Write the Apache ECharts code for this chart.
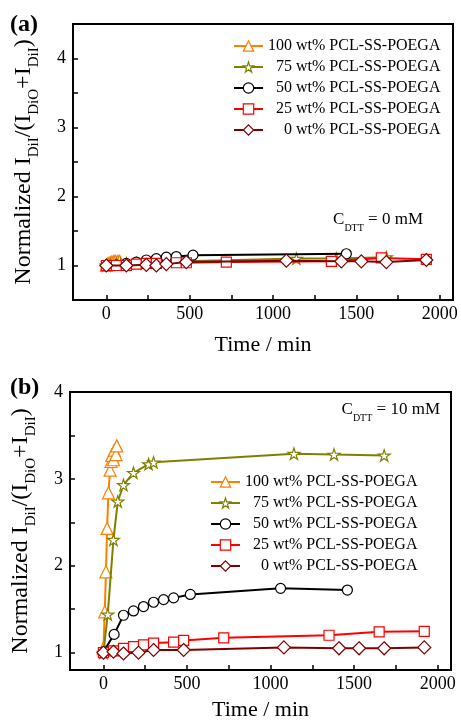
<!DOCTYPE html>
<html><head><meta charset="utf-8">
<script src="https://cdn.jsdelivr.net/npm/echarts@6/dist/echarts.min.js"></script>
<style>html,body{margin:0;padding:0;background:#fff}#c{width:461px;height:722px}</style>
</head><body><div id="c"></div><script>
const seriesNames = ['100 wt% PCL-SS-POEGA','75 wt% PCL-SS-POEGA','50 wt% PCL-SS-POEGA','25 wt% PCL-SS-POEGA','0 wt% PCL-SS-POEGA'];
const legendPad = {'100 wt% PCL-SS-POEGA':'','75 wt% PCL-SS-POEGA':'  ','50 wt% PCL-SS-POEGA':'  ','25 wt% PCL-SS-POEGA':'  ','0 wt% PCL-SS-POEGA':'    '};
const xLabelTicks = [0,500,1000,1500,2000];
const xAllTicks = [0,250,500,750,1000,1250,1500,1750,2000];
const yLabelTicks = [1,2,3,4];
const yAllTicksA = [1,1.5,2,2.5,3,3.5,4];
const yAllTicksB = [1,1.5,2,2.5,3,3.5,4];

// Panel (a): C_DTT = 0 mM  [time (min), normalized ratio]
const a100 = [[0,1.0],[8,1.02],[15,1.03],[22,1.04],[30,1.05],[40,1.05],[45,1.06],[50,1.05],[55,1.06],[65,1.05],[70,1.06],[80,1.06]];
const a75  = [[0,1.0],[26,1.01],[60,1.02],[86,1.02],[120,1.03],[180,1.03],[270,1.04],[300,1.05],[1140,1.10],[1380,1.10],[1680,1.12]];
const a50  = [[0,1.0],[60,1.01],[120,1.03],[180,1.05],[240,1.08],[300,1.10],[360,1.12],[420,1.13],[520,1.15],[1440,1.17]];
const a25  = [[0,1.0],[60,1.0],[120,1.0],[180,1.02],[240,1.03],[300,1.03],[420,1.04],[480,1.04],[720,1.05],[1350,1.06],[1650,1.11],[1920,1.09]];
const a0   = [[0,1.0],[120,1.0],[240,1.01],[300,1.0],[360,1.02],[480,1.05],[1080,1.07],[1410,1.06],[1530,1.06],[1680,1.05],[1920,1.08]];

// Panel (b): C_DTT = 10 mM
const b100 = [[0,1.05],[8,1.47],[15,1.93],[22,2.43],[30,2.84],[40,3.10],[45,3.20],[50,3.27],[60,3.22],[65,3.33],[75,3.28],[80,3.38]];
const b75  = [[0,1.0],[26,1.44],[60,2.30],[86,2.74],[120,2.93],[180,3.07],[270,3.17],[300,3.19],[1140,3.29],[1380,3.28],[1680,3.27]];
const b50  = [[0,1.01],[64,1.21],[120,1.43],[180,1.48],[240,1.53],[300,1.58],[360,1.61],[420,1.63],[520,1.67],[1060,1.74],[1460,1.72]];
const b25  = [[0,1.0],[60,1.02],[120,1.05],[180,1.07],[240,1.09],[300,1.11],[420,1.12],[480,1.14],[720,1.17],[1350,1.20],[1650,1.24],[1920,1.245]];
const b0   = [[0,1.0],[60,1.01],[120,0.99],[210,1.0],[300,1.03],[480,1.03],[1080,1.06],[1410,1.05],[1530,1.05],[1680,1.05],[1920,1.06]];

const colors = ['#FF7F00','#808000','#000000','#FF0000','#800000'];
const STAR = 'path://M50,0 L61,35 L98,35 L68,57 L79,91 L50,70 L21,91 L32,57 L2,35 L39,35 Z';
const symbols = ['triangle', STAR, 'circle', 'rect', 'diamond'];
const symSizes = [12, 12, 10, 10, 13];
const FF = '"Liberation Serif", "Times New Roman", serif';

function makeSeries(data, i, gi) {
  return {
    name: seriesNames[i], type: 'line', xAxisIndex: gi, yAxisIndex: gi, data: data,
    symbol: symbols[i], symbolSize: symSizes[i], symbolKeepAspect: true,
    itemStyle: {color: '#fff', borderColor: colors[i], borderWidth: 1.2},
    lineStyle: {color: colors[i], width: 2},
    animation: false, z: 2 + i
  };
}

function xAxis(gi, gap) {
  return {
    type: 'value', gridIndex: gi, min: -200, max: 2080,
    name: 'Time / min', nameLocation: 'middle', nameGap: gap,
    nameTextStyle: {fontFamily: FF, fontSize: 22, color: '#000'},
    axisLine: {show: true, onZero: false, lineStyle: {color: '#000', width: 2}},
    axisTick: {show: true, inside: true, length: 5, customValues: xAllTicks, lineStyle: {color: '#000', width: 1.5}},
    axisLabel: {customValues: xLabelTicks, formatter: v => String(v), fontFamily: FF, fontSize: 18, color: '#000', margin: 5},
    splitLine: {show: false}
  };
}
const yName = '{m|Normalized I}{s|DiI}{m|/(I}{s|DiO}{m|+I}{s|DiI}{m|)}';
function yAxis(gi, min, max, ticks) {
  return {
    type: 'value', gridIndex: gi, min: min, max: max,
    name: yName, nameLocation: 'middle', nameRotate: 90, nameGap: 31,
    nameTextStyle: {fontFamily: FF, color: '#000',
      rich: {m: {fontFamily: FF, fontSize: 24, color: '#000', verticalAlign: 'bottom', padding: [0,0,6,0]},
             s: {fontFamily: FF, fontSize: 15, color: '#000', verticalAlign: 'bottom'}}},
    axisLine: {show: true, onZero: false, lineStyle: {color: '#000', width: 2}},
    axisTick: {show: true, inside: true, length: 5, customValues: ticks, lineStyle: {color: '#000', width: 1.5}},
    axisLabel: {customValues: yLabelTicks, formatter: v => String(v), fontFamily: FF, fontSize: 18, color: '#000', margin: 7},
    splitLine: {show: false}
  };
}
function legend(left, top) {
  return {
    left: left, top: top, orient: 'vertical', itemWidth: 29, itemHeight: 13, itemGap: 5, padding: 0,
    selectedMode: false, data: seriesNames,
    itemStyle: {borderWidth: 1.2},
    formatter: n => legendPad[n] + n,
    textStyle: {fontFamily: FF, fontSize: 16, color: '#000'}
  };
}
function cLabel(x, y, val) {
  return {
    type: 'text', x: x, y: y, z: 100,
    style: {text: '{c|C}{s|DTT}{c| = ' + val + '}', align: 'right', verticalAlign: 'middle', fill: '#000',
      rich: {c: {fontFamily: FF, fontSize: 17, fill: '#000', verticalAlign: 'bottom', padding: [0,0,5,0]},
             s: {fontFamily: FF, fontSize: 10, fill: '#000', verticalAlign: 'bottom'}}}
  };
}

const chart = echarts.init(document.getElementById('c'), null, {renderer: 'canvas'});
chart.setOption({
  backgroundColor: '#fff',
  animation: false,
  grid: [
    {left: 73, top: 24, width: 380, height: 276, show: true, borderColor: '#000', borderWidth: 2, backgroundColor: 'transparent'},
    {left: 70, top: 392, width: 381, height: 278, show: true, borderColor: '#000', borderWidth: 2, backgroundColor: 'transparent'}
  ],
  xAxis: [xAxis(0, 34), xAxis(1, 29)],
  yAxis: [yAxis(0, 0.5, 4.5, yAllTicksA), yAxis(1, 0.8, 4.0, yAllTicksB)],
  legend: [legend(233, 38), legend(210, 474)],
  graphic: [
    {type: 'text', x: 10, y: 13, style: {text: '(a)', font: 'bold 24px "Liberation Serif"', fill: '#000'}},
    {type: 'text', x: 10, y: 376, style: {text: '(b)', font: 'bold 24px "Liberation Serif"', fill: '#000'}},
    cLabel(423, 222, '0 mM'),
    cLabel(440, 412, '10 mM')
  ],
  series: [
    makeSeries(a100,0,0), makeSeries(a75,1,0), makeSeries(a50,2,0), makeSeries(a25,3,0), makeSeries(a0,4,0),
    makeSeries(b100,0,1), makeSeries(b75,1,1), makeSeries(b50,2,1), makeSeries(b25,3,1), makeSeries(b0,4,1)
  ]
});
</script></body></html>
